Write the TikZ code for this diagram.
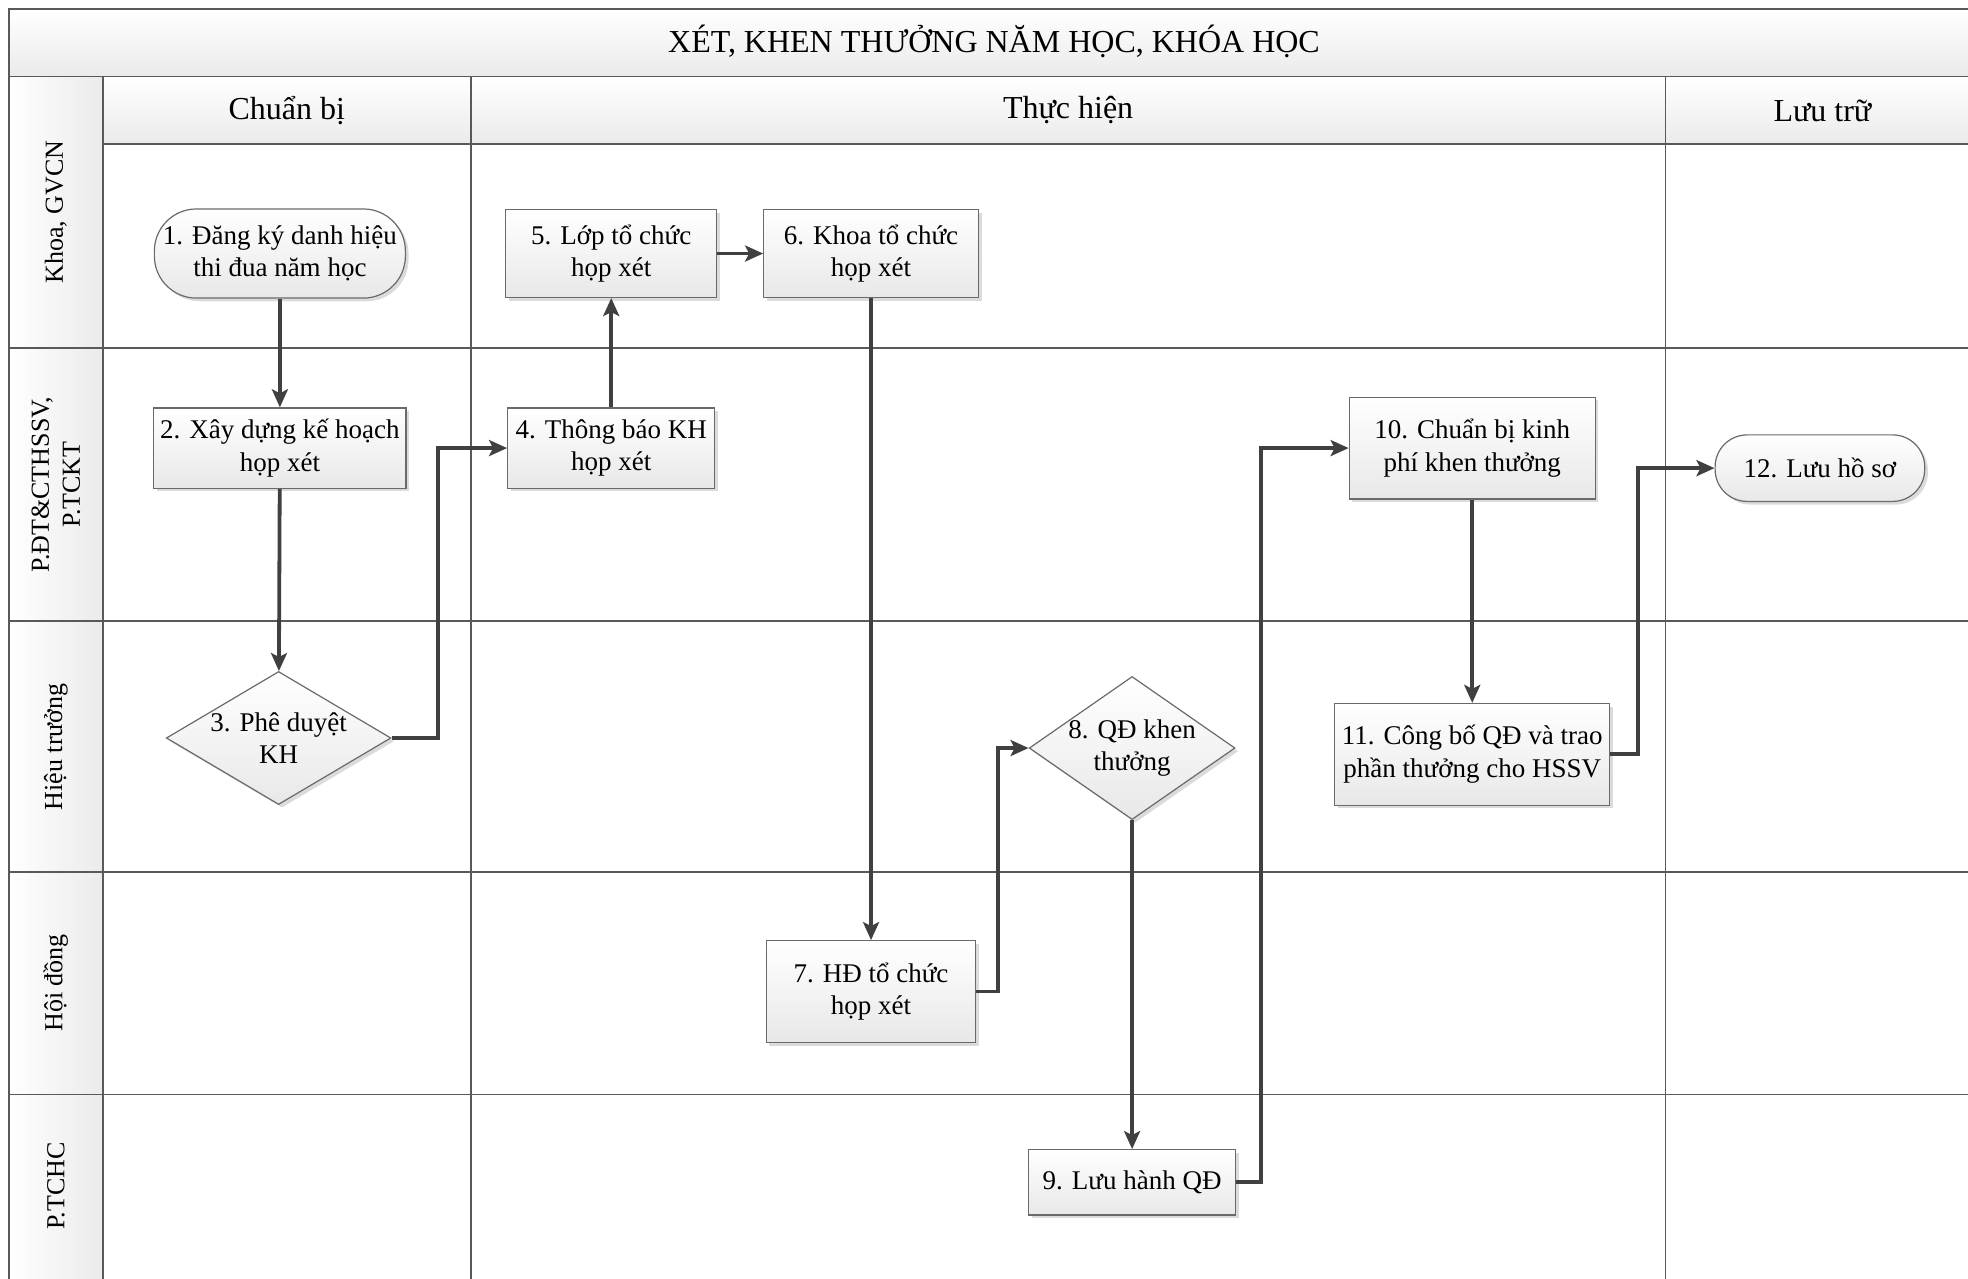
\documentclass[tikz,border=0pt]{standalone}
\usepackage{fontspec}
\setmainfont{Liberation Serif}
\usetikzlibrary{shapes.geometric,arrows.meta,shadows}

\definecolor{gridc}{HTML}{595959}
\definecolor{connc}{HTML}{404040}
\definecolor{nodeline}{HTML}{6A6A6A}

\begin{document}
\begin{tikzpicture}[x=0.62755pt,y=-0.62755pt,
  sz/.style 2 args={minimum width=#1*0.62755pt,minimum height=#2*0.62755pt},
  nodebase/.style={draw=nodeline, line width=0.6pt, top color=white, bottom color=black!9,
    inner sep=0pt, align=center, font=\fontsize{13.5}{16.3}\selectfont,
    drop shadow={shadow xshift=1.6pt, shadow yshift=-1.6pt, fill=black!20, opacity=0.7}},
  procbox/.style={nodebase, rectangle},
  termbox/.style={nodebase, rectangle, rounded corners=#1},
  decbox/.style={nodebase, diamond},
  nodetext/.style={inner sep=0pt, align=center, font=\fontsize{13.5}{16.3}\selectfont},
  conn/.style={draw=connc, line width=1.9pt, line join=miter, -{Stealth[length=9pt,width=8pt,inset=2pt]}},
  gridline/.style={draw=gridc, line width=0.9pt},
  lanelab/.style={rotate=90, font=\fontsize{13}{15.5}\selectfont, align=center},
  headlab/.style={font=\fontsize{16}{19}\selectfont}
]
\useasboundingbox (0,0) rectangle (1568,1019);
\clip (0,0) rectangle (1568,1019);

% backgrounds
\fill[top color=white,bottom color=black!8] (7,7) rectangle (1577,61);
\fill[top color=white,bottom color=black!8] (82,61) rectangle (1577,115);
\foreach \a/\b in {61/277,277/495,495/695,695/872,872/1030}
  \fill[left color=white,right color=black!8] (7,\a) rectangle (82,\b);

% grid
\draw[gridline] (1577,7) -- (7,7) -- (7,1030);
\draw[gridline] (7,61) -- (1577,61);
\draw[gridline] (82,115) -- (1577,115);
\foreach \yy in {277,495,695,872} \draw[gridline] (7,\yy) -- (1577,\yy);
\foreach \xx in {82,375,1327} \draw[gridline] (\xx,61) -- (\xx,1030);

% headers
\node[headlab] (title) at (792,33) {XÉT, KHEN THƯỞNG NĂM HỌC, KHÓA HỌC};
\node[headlab] (hcb) at (228.5,88) {Chuẩn bị};
\node[headlab] (hth) at (851,88) {Thực hiện};
\node[headlab] (hlt) at (1452,88) {Lưu trữ};

% lane labels
\node[lanelab] (l1) at (44.5,169) {Khoa, GVCN};
\node[lanelab] (l2) at (44.5,386) {P.ĐT\&CTHSSV,\\P.TCKT};
\node[lanelab] (l3) at (44.5,595) {Hiệu trưởng};
\node[lanelab] (l4) at (44.5,783) {Hội đồng};
\node[lanelab] (l5) at (44.5,945) {P.TCHC};

% process nodes
\node[termbox=21pt, sz={200}{71}] (n1) at (223,202) {1. Đăng ký danh hiệu\\thi đua năm học};
\node[procbox, sz={201}{64}] (n2) at (223,357) {2. Xây dựng kế hoạch\\họp xét};
\node[decbox, sz={179}{106}] (n3) at (222,588) {};
\node[nodetext] (n3t) at (n3.center) {3. Phê duyệt\\KH};
\node[procbox, sz={165}{64}] (n4) at (487,357) {4. Thông báo KH\\họp xét};
\node[procbox, sz={168}{70}] (n5) at (487,202) {5. Lớp tổ chức\\họp xét};
\node[procbox, sz={171}{70}] (n6) at (694,202) {6. Khoa tổ chức\\họp xét};
\node[procbox, sz={167}{81}] (n7) at (694,790) {7. HĐ tổ chức\\họp xét};
\node[decbox, sz={164}{114}] (n8) at (902,596) {};
\node[nodetext] (n8t) at (n8.center) {8. QĐ khen\\thưởng};
\node[procbox, sz={165}{52}] (n9) at (902,942) {9. Lưu hành QĐ};
\node[procbox, sz={196}{81}] (n10) at (1173,357) {10. Chuẩn bị kinh\\phí khen thưởng};
\node[procbox, sz={219}{81}] (n11) at (1173,601) {11. Công bố QĐ và trao\\phần thưởng cho HSSV};
\node[termbox=16pt, sz={167}{53}] (n12) at (1450,373) {12. Lưu hồ sơ};

% connectors
\draw[conn] (n1) -- (n2);
\draw[conn] (n2) -- (n3);
\draw[conn] (n3.east) -- ++(37,0) |- (n4.west);
\draw[conn] (n4) -- (n5);
\draw[conn] (n5) -- (n6);
\draw[conn] (n6) -- (n7);
\draw[conn] (n7.east) -- ++(17,0) |- (n8.west);
\draw[conn] (n8) -- (n9);
\draw[conn] (n9.east) -- ++(20,0) |- (n10.west);
\draw[conn] (n10) -- (n11);
\draw[conn] (n11.east) -- ++(22,0) |- (n12.west);
\end{tikzpicture}
\end{document}
